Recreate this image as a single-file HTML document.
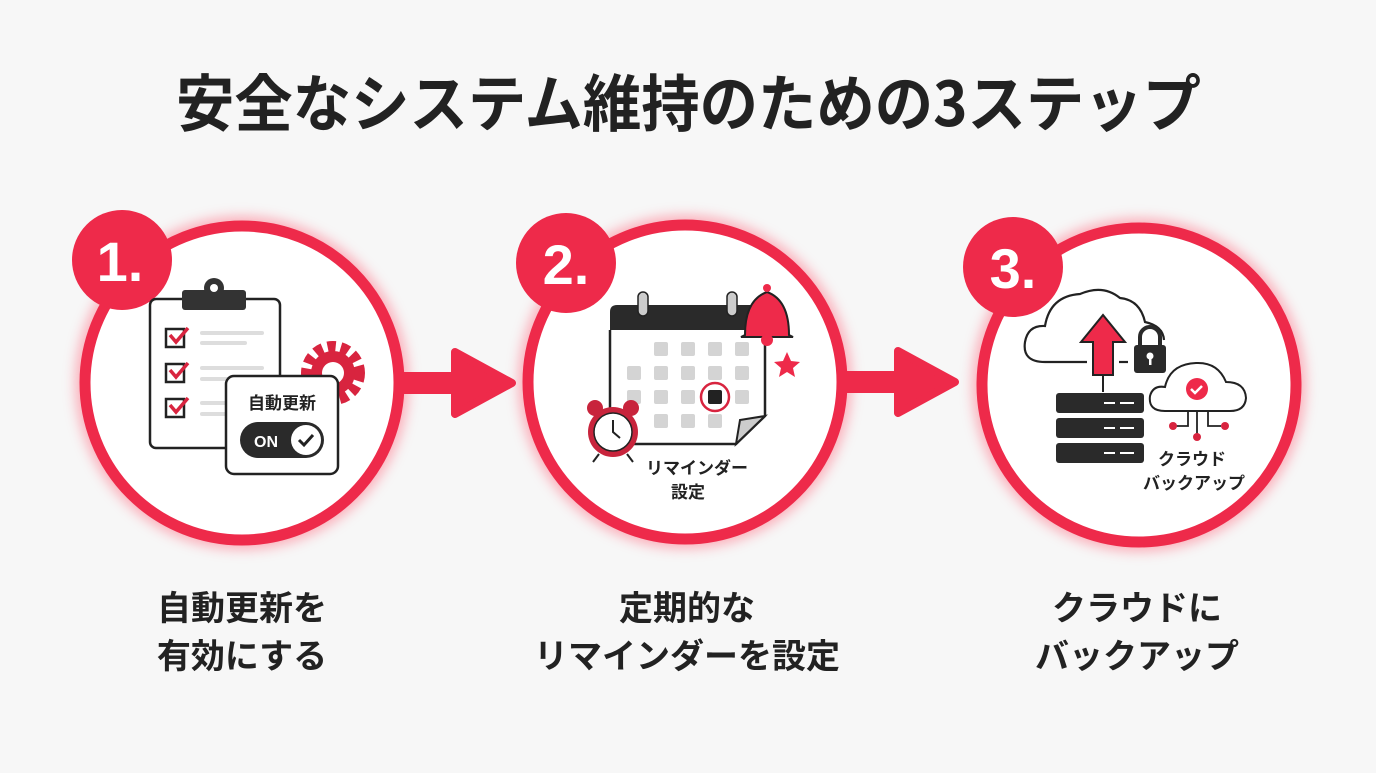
<!DOCTYPE html>
<html><head><meta charset="utf-8"><style>
html,body{margin:0;padding:0;background:#f7f7f7;}
body{width:1376px;height:768px;overflow:hidden;font-family:"Liberation Sans","Noto Sans CJK JP",sans-serif;}
</style></head><body>
<svg width="1376" height="768" viewBox="0 0 1376 768" xmlns="http://www.w3.org/2000/svg" font-family="Liberation Sans, Noto Sans CJK JP, sans-serif">
<defs>
<filter id="glow" x="-20%" y="-20%" width="140%" height="140%"><feGaussianBlur stdDeviation="6"/></filter>
</defs>
<rect width="1376" height="768" fill="#f7f7f7"/>
<text x="176" y="126" font-size="62" font-weight="700" fill="#222" textLength="1025" lengthAdjust="spacingAndGlyphs" font-family="Noto Sans CJK JP, sans-serif">安全なシステム維持のための3ステップ</text>

<!-- glows -->
<g stroke="#ff6b80" stroke-width="20" fill="none" opacity="0.5" filter="url(#glow)">
<circle cx="242" cy="383" r="157"/><circle cx="685" cy="382" r="157"/><circle cx="1139" cy="385" r="157"/>
</g>
<!-- arrows -->
<g fill="#ee2a4a">
<rect x="395" y="372" width="70" height="22"/>
<path d="M455 352 L512 383 L455 414 Z" stroke="#ee2a4a" stroke-width="8" stroke-linejoin="round"/>
<rect x="838" y="371" width="70" height="22"/>
<path d="M898 351 L955 382 L898 413 Z" stroke="#ee2a4a" stroke-width="8" stroke-linejoin="round"/>
</g>
<g fill="#fff" stroke="#ee2a4a" stroke-width="11">
<circle cx="242" cy="383" r="157"/><circle cx="685" cy="382" r="157"/><circle cx="1139" cy="385" r="157"/>
</g>
<!-- badges -->
<g fill="#ee2a4a"><circle cx="122" cy="260" r="50"/><circle cx="566" cy="263" r="50"/><circle cx="1013" cy="267" r="50"/></g>
<g fill="#fff" font-size="56" font-weight="700" text-anchor="middle" font-family="Liberation Sans, sans-serif">
<text x="120" y="281">1.</text><text x="566" y="284">2.</text><text x="1013" y="288">3.</text></g>

<!-- icon 1 -->
<g stroke="#222" stroke-width="2.5" fill="#fff">
<rect x="150" y="299" width="130" height="149" rx="6"/>
</g>
<rect x="182" y="290" width="64" height="20" rx="3" fill="#333"/>
<circle cx="214" cy="288" r="10" fill="#333"/><circle cx="214" cy="288" r="4" fill="#fff"/>
<g stroke="#ddd" stroke-width="4" stroke-linecap="round">
<line x1="202" y1="333" x2="262" y2="333"/><line x1="202" y1="343" x2="245" y2="343"/>
<line x1="202" y1="368" x2="262" y2="368"/><line x1="202" y1="379" x2="245" y2="379"/>
<line x1="202" y1="403" x2="262" y2="403"/><line x1="202" y1="414" x2="245" y2="414"/>
</g>
<g fill="#fff" stroke="#222" stroke-width="2.5"><rect x="166" y="329" width="18" height="18"/><rect x="166" y="364" width="18" height="18"/><rect x="166" y="399" width="18" height="18"/></g>
<g fill="none" stroke="#d8243f" stroke-width="3.5"><path d="M170 335 l6 7 l12 -14"/><path d="M170 370 l6 7 l12 -14"/><path d="M170 405 l6 7 l12 -14"/></g>
<g transform="translate(333,373)"><circle r="26" fill="none" stroke="#d8243f" stroke-width="12" stroke-dasharray="8 5"/><circle r="22" fill="#d8243f"/><circle r="11" fill="#fff"/></g>
<rect x="226" y="376" width="112" height="98" rx="8" fill="#fff" stroke="#222" stroke-width="2.5"/>
<text x="282" y="409" text-anchor="middle" font-size="17" font-weight="700" fill="#222">自動更新</text>
<rect x="240" y="422" width="84" height="36" rx="18" fill="#2a2a2a"/>
<text x="266" y="447" text-anchor="middle" font-size="16" font-weight="700" fill="#fff">ON</text>
<circle cx="306" cy="440" r="15" fill="#fff"/><path d="M299 440 l5 5 l9 -10" fill="none" stroke="#222" stroke-width="3"/>

<!-- icon 2 -->
<path d="M610 330 L610 444 L736 444 L765 416 L765 330" fill="#fff" stroke="#222" stroke-width="2.5"/>
<path d="M736 444 L740 420 L765 416 Z" fill="#ccc" stroke="#222" stroke-width="2"/>
<path d="M610 330 L610 312 Q610 305 617 305 L757 305 Q765 305 765 312 L765 330 Z" fill="#2a2a2a"/>
<rect x="638" y="292" width="10" height="24" rx="5" fill="#ccc" stroke="#222" stroke-width="1.5"/>
<rect x="727" y="292" width="10" height="24" rx="5" fill="#ccc" stroke="#222" stroke-width="1.5"/>
<g fill="#d4d4d4">
<rect x="654" y="342" width="14" height="14" rx="2"/><rect x="681" y="342" width="14" height="14" rx="2"/><rect x="708" y="342" width="14" height="14" rx="2"/><rect x="735" y="342" width="14" height="14" rx="2"/>
<rect x="627" y="366" width="14" height="14" rx="2"/><rect x="654" y="366" width="14" height="14" rx="2"/><rect x="681" y="366" width="14" height="14" rx="2"/><rect x="708" y="366" width="14" height="14" rx="2"/><rect x="735" y="366" width="14" height="14" rx="2"/>
<rect x="627" y="390" width="14" height="14" rx="2"/><rect x="654" y="390" width="14" height="14" rx="2"/><rect x="681" y="390" width="14" height="14" rx="2"/><rect x="735" y="390" width="14" height="14" rx="2"/>
<rect x="654" y="414" width="14" height="14" rx="2"/><rect x="681" y="414" width="14" height="14" rx="2"/><rect x="708" y="414" width="14" height="14" rx="2"/>
</g>
<circle cx="715" cy="397" r="14" fill="none" stroke="#d8243f" stroke-width="2.5"/>
<rect x="708" y="390" width="14" height="14" rx="2" fill="#222"/>
<path d="M745 335 Q745 300 767 292 Q789 300 789 335 L793 337 L741 337 Z" fill="#ee2a4a" stroke="#222" stroke-width="2"/>
<circle cx="767" cy="288" r="4" fill="#ee2a4a"/><circle cx="767" cy="340" r="6" fill="#ee2a4a"/>
<path d="M787 352 l4 9 l9 1 l-7 6 l2 9 l-8 -5 l-8 5 l2 -9 l-7 -6 l9 -1z" fill="#ee2a4a"/>
<g transform="translate(613,432)">
<circle r="25" fill="#c8243c"/><circle r="19" fill="#fff" stroke="#222" stroke-width="1.5"/>
<path d="M0 -12 L0 0 L7 6" fill="none" stroke="#222" stroke-width="2"/>
<circle cx="-18" cy="-24" r="8" fill="#c8243c"/><circle cx="18" cy="-24" r="8" fill="#c8243c"/>
<line x1="-14" y1="22" x2="-20" y2="30" stroke="#222" stroke-width="2"/><line x1="14" y1="22" x2="20" y2="30" stroke="#222" stroke-width="2"/>
</g>
<text x="697" y="474" text-anchor="middle" font-size="17" font-weight="700" fill="#222">リマインダー</text>
<text x="688" y="498" text-anchor="middle" font-size="17" font-weight="700" fill="#222">設定</text>

<!-- icon 3 -->
<path d="M1045 362 Q1022 362 1025 342 Q1028 325 1045 326 Q1050 296 1080 294 Q1103 284 1120 298 Q1140 300 1145 322 Q1163 326 1164 340" fill="#fff" stroke="#222" stroke-width="2.2"/>
<line x1="1045" y1="362" x2="1087" y2="362" stroke="#222" stroke-width="2.2"/>
<line x1="1119" y1="362" x2="1128" y2="362" stroke="#222" stroke-width="2.2"/>
<path d="M1081 342 L1103 315 L1125 342 L1113 342 L1113 375 L1093 375 L1093 342 Z" fill="#ee2a4a" stroke="#222" stroke-width="2"/>
<line x1="1103" y1="375" x2="1103" y2="392" stroke="#222" stroke-width="2"/>
<rect x="1134" y="345" width="32" height="28" rx="3" fill="#2a2a2a"/>
<path d="M1140 345 v-8 a10 10 0 0 1 20 0 v8" fill="none" stroke="#2a2a2a" stroke-width="4"/>
<circle cx="1150" cy="356" r="3.5" fill="#fff"/><rect x="1149" y="357" width="2.5" height="8" fill="#fff"/>
<g fill="#2a2a2a"><rect x="1056" y="393" width="88" height="20" rx="3"/><rect x="1056" y="418" width="88" height="20" rx="3"/><rect x="1056" y="443" width="88" height="20" rx="3"/></g>
<g stroke="#fff" stroke-width="2"><line x1="1104" y1="403" x2="1115" y2="403"/><line x1="1120" y1="403" x2="1134" y2="403"/><line x1="1104" y1="428" x2="1115" y2="428"/><line x1="1120" y1="428" x2="1134" y2="428"/><line x1="1104" y1="453" x2="1115" y2="453"/><line x1="1120" y1="453" x2="1134" y2="453"/></g>
<path d="M1165 411 Q1148 411 1150 396 Q1153 385 1165 387 Q1170 364 1196 363 Q1218 362 1226 382 Q1245 382 1246 398 Q1245 411 1230 411 Z" fill="#fff" stroke="#222" stroke-width="2"/>
<circle cx="1197" cy="389" r="11" fill="#ee2a4a"/><path d="M1191 389 l4 4 l7 -7" fill="none" stroke="#fff" stroke-width="2.5"/>
<g fill="none" stroke="#222" stroke-width="1.8"><path d="M1188 411 v15 h-13"/><path d="M1197 411 v24"/><path d="M1208 411 v15 h13"/></g>
<g fill="#d8243f"><circle cx="1173" cy="426" r="4"/><circle cx="1197" cy="437" r="4"/><circle cx="1225" cy="426" r="4"/></g>
<text x="1192" y="465" text-anchor="middle" font-size="17" font-weight="700" fill="#222">クラウド</text>
<text x="1194" y="489" text-anchor="middle" font-size="17" font-weight="700" fill="#222">バックアップ</text>

<!-- labels -->
<g font-size="34" font-weight="700" fill="#222" text-anchor="middle" font-family="Noto Sans CJK JP, sans-serif">
<text x="242" y="620">自動更新を</text><text x="242" y="668">有効にする</text>
<text x="687" y="620">定期的な</text><text x="687" y="668">リマインダーを設定</text>
<text x="1137" y="620">クラウドに</text><text x="1137" y="668">バックアップ</text>
</g>
</svg>
</body></html>
